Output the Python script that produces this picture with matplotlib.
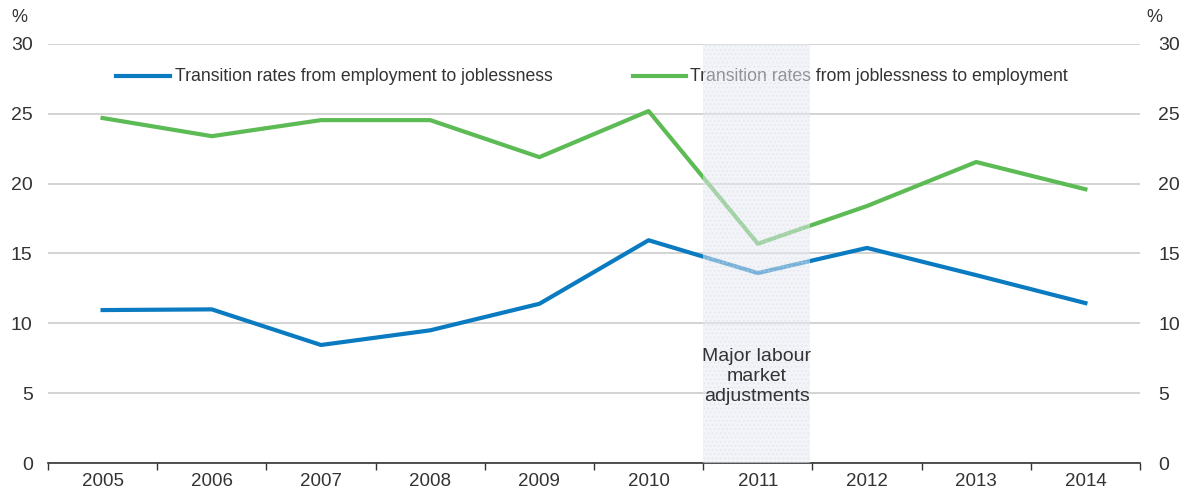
import matplotlib.pyplot as plt
import numpy as np

years = ['2005', '2006', '2007', '2008', '2009', '2010', '2011', '2012', '2013', '2014']
emp_to_jobless = [10.95, 11.0, 8.45, 9.5, 11.4, 15.95, 13.6, 15.4, 13.45, 11.45]
jobless_to_emp = [24.7, 23.4, 24.55, 24.55, 21.9, 25.2, 15.7, 18.4, 21.55, 19.6]
label_a = 'Transition rates from employment to joblessness'
label_b = 'Transition rates from joblessness to employment'
shade_text = 'Major labour\nmarket\nadjustments'

plt.rcParams['font.family'] = ['Liberation Sans Narrow', 'Liberation Sans', 'DejaVu Sans']
txt = '#333333'
blue = '#0A7BC1'
green = '#5DBB55'

fig = plt.figure(figsize=(11.84, 4.92), dpi=100)
ax = fig.add_axes([48 / 1184, 29 / 492, 1092 / 1184, 419 / 492])
x = np.arange(len(years))

ax.plot(x, emp_to_jobless, color=blue, lw=3, zorder=3)
ax.plot(x, jobless_to_emp, color=green, lw=3, zorder=3)

# shaded period drawn over the lines
ax.axvspan(5.5, 6.48, facecolor='#E6EAF2', alpha=0.5, lw=0, zorder=4)
ax.axvspan(5.5, 6.48, facecolor='none', edgecolor='#D5DBE6', hatch='....', lw=0, alpha=0.35, zorder=4)
ax.text(5.99, 6.2, shade_text, ha='center', va='center', fontsize=14, color=txt,
        linespacing=1.2, zorder=5)

# legend as plain lines + text
ax.plot([0.12, 0.62], [27.7, 27.7], color=blue, lw=3, zorder=3, clip_on=False)
ax.text(0.66, 27.7, label_a, va='center', ha='left', fontsize=12.7, color=txt, zorder=3)
ax.plot([4.86, 5.34], [27.7, 27.7], color=green, lw=3, zorder=3)
ax.text(5.38, 27.7, label_b, va='center', ha='left', fontsize=12.7, color=txt, zorder=3)

ax.set_xlim(-0.5, len(years) - 0.5)
ax.set_ylim(0, 30)
ax.set_yticks(range(0, 31, 5))
ax.yaxis.grid(True, color='#CCCCCC', lw=1.2)
ax.set_axisbelow(True)
ax.tick_params(axis='y', length=0, labelsize=14, labelcolor=txt, pad=11)
ax.set_xticks(x)
ax.set_xticklabels(years)
ax.set_xticks(np.arange(-0.5, len(years), 1), minor=True)
ax.tick_params(axis='x', which='major', length=0, labelsize=13.5, labelcolor=txt, pad=7)
ax.tick_params(axis='x', which='minor', length=5, width=1, color='#333333', direction='out')
for s in ['top', 'left', 'right']:
    ax.spines[s].set_visible(False)
ax.spines['bottom'].set_color('#333333')
ax.spines['bottom'].set_linewidth(1.2)

ax2 = ax.twinx()
ax2.set_ylim(0, 30)
ax2.set_yticks(range(0, 31, 5))
ax2.tick_params(axis='y', length=0, labelsize=14, labelcolor=txt, pad=13)
for s in ax2.spines.values():
    s.set_visible(False)

fig.text(11 / 1184, 1 - 18 / 492, '%', fontsize=13, color=txt, ha='left', va='center')
fig.text(1146 / 1184, 1 - 18 / 492, '%', fontsize=13, color=txt, ha='left', va='center')

fig.savefig('out.png', dpi=100)
